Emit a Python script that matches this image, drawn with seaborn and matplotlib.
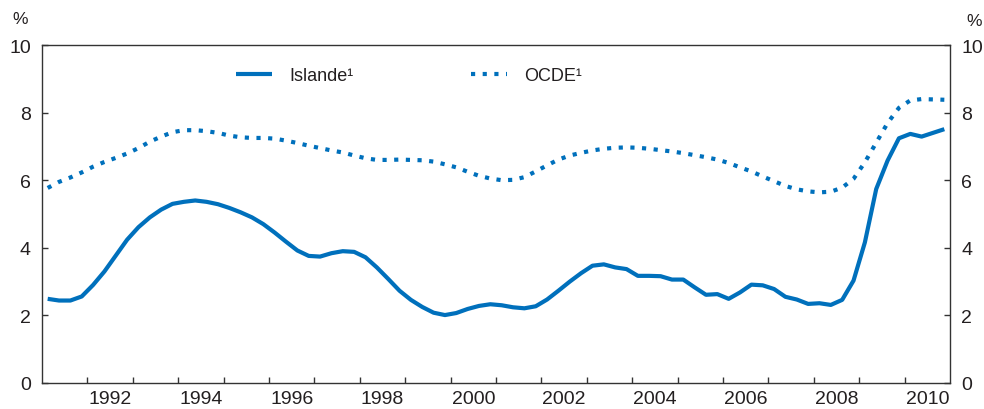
import numpy as np
import pandas as pd
import matplotlib
matplotlib.use("Agg")
import matplotlib.pyplot as plt
from matplotlib.ticker import FixedLocator, NullFormatter, FixedFormatter
import seaborn as sns

# Quarterly observations, 1991Q1 - 2010Q4 (plotted at mid-quarter)
start_year = 1991
n_quarters = 80

islande = [
    2.49, 2.44, 2.44, 2.56, 2.90, 3.30, 3.77, 4.24, 4.61, 4.90,
    5.13, 5.30, 5.36, 5.40, 5.36, 5.29, 5.18, 5.05, 4.90, 4.70,
    4.45, 4.18, 3.92, 3.76, 3.74, 3.84, 3.90, 3.88, 3.72, 3.42,
    3.08, 2.73, 2.46, 2.25, 2.08, 2.01, 2.07, 2.19, 2.28, 2.33,
    2.30, 2.24, 2.21, 2.27, 2.47, 2.73, 3.00, 3.25, 3.47, 3.51,
    3.42, 3.37, 3.17, 3.17, 3.16, 3.06, 3.06, 2.83, 2.61, 2.63,
    2.49, 2.68, 2.91, 2.89, 2.78, 2.55, 2.47, 2.34, 2.36, 2.31,
    2.46, 3.03, 4.16, 5.74, 6.58, 7.24, 7.37, 7.29, 7.40, 7.51,
]

ocde = [
    5.77, 5.95, 6.08, 6.23, 6.40, 6.54, 6.66, 6.79, 6.95, 7.14,
    7.29, 7.42, 7.48, 7.48, 7.45, 7.40, 7.32, 7.27, 7.25, 7.25,
    7.23, 7.17, 7.10, 7.02, 6.95, 6.88, 6.82, 6.73, 6.65, 6.60,
    6.60, 6.61, 6.60, 6.59, 6.55, 6.47, 6.38, 6.25, 6.13, 6.05,
    6.00, 6.01, 6.09, 6.26, 6.44, 6.61, 6.73, 6.81, 6.88, 6.93,
    6.96, 6.97, 6.96, 6.93, 6.89, 6.85, 6.80, 6.74, 6.68, 6.61,
    6.51, 6.38, 6.26, 6.11, 5.97, 5.83, 5.73, 5.67, 5.64, 5.66,
    5.78, 6.04, 6.53, 7.11, 7.69, 8.14, 8.36, 8.40, 8.39, 8.38,
]

year_labels = ["1992", "1994", "1996", "1998", "2000",
               "2002", "2004", "2006", "2008", "2010"]
y_ticks = [0, 2, 4, 6, 8, 10]
series_names = ["Islande\u00b9", "OCDE\u00b9"]

time = start_year + (np.arange(n_quarters) + 0.5) / 4.0
df = pd.DataFrame({"t": time, "islande": islande, "ocde": ocde})

blue = "#0070BC"
text_col = "#231F20"
spine_col = "#333333"

sns.set_theme(style="white")
plt.rcParams["font.family"] = ["Liberation Sans", "DejaVu Sans"]

fig = plt.figure(figsize=(9.84, 4.10), dpi=100)
ax = fig.add_axes([42 / 984, 26 / 410, 908 / 984, 338 / 410])

sns.lineplot(data=df, x="t", y="islande", ax=ax, color=blue, linewidth=3.0,
             label=series_names[0], solid_capstyle="butt")
sns.lineplot(data=df, x="t", y="ocde", ax=ax, color=blue, linewidth=3.0,
             linestyle=(0, (1.0, 1.8)), dash_capstyle="butt",
             label=series_names[1])

ax.set_xlim(1991, 2011)
ax.set_ylim(0, 10)
ax.set_xlabel("")
ax.set_ylabel("")

# Year boundaries get tick marks; labels sit in the middle of each year
ax.xaxis.set_major_locator(FixedLocator(list(range(1992, 2011))))
ax.xaxis.set_major_formatter(NullFormatter())
label_pos = [int(y) + 0.5 for y in year_labels]
ax.xaxis.set_minor_locator(FixedLocator(label_pos))
ax.xaxis.set_minor_formatter(FixedFormatter(year_labels))
ax.tick_params(axis="x", which="major", direction="in", length=4,
               width=1, color=spine_col, bottom=True, top=False)
ax.tick_params(axis="x", which="minor", length=0, pad=5,
               labelsize=14, labelcolor=text_col)

ax.set_yticks(y_ticks)
ax.set_yticklabels([str(v) for v in y_ticks])
ax.tick_params(axis="y", direction="in", length=4, width=1, color=spine_col,
               left=True, right=True, labelleft=True, labelright=True,
               pad=8, labelsize=14, labelcolor=text_col)

for side in ["left", "right", "top", "bottom"]:
    ax.spines[side].set_visible(True)
    ax.spines[side].set_color(spine_col)
    ax.spines[side].set_linewidth(1.0)

ax.grid(False)

fig.text(20 / 984, 1 - 20 / 410, "%", ha="center", va="center",
         fontsize=12.5, color=text_col)
fig.text(974 / 984, 1 - 21 / 410, "%", ha="center", va="center",
         fontsize=12.5, color=text_col)

leg = ax.legend(loc="center left", bbox_to_anchor=(236 / 984, 1 - 77 / 410),
                bbox_transform=fig.transFigure, ncol=2, frameon=False,
                fontsize=13, handlelength=2.0, handletextpad=0.95,
                columnspacing=6.5, borderpad=0, borderaxespad=0)
for txt in leg.get_texts():
    txt.set_color(text_col)

fig.savefig("out.png", dpi=100, facecolor="white")
